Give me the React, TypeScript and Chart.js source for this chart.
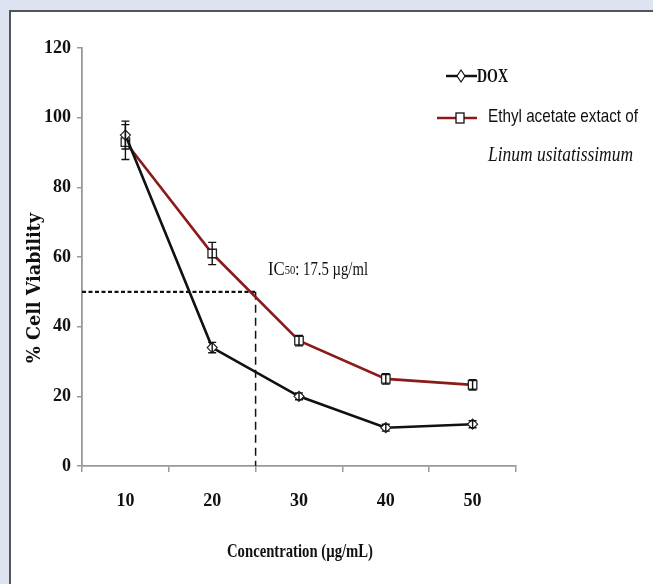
import React, { useEffect, useRef } from "react";
import { Chart, registerables } from "chart.js";

Chart.register(...registerables);

const concentrations = ["10", "20", "30", "40", "50"];
const doxValues = [95, 34, 20, 11, 12];
const doxErrors = [4, 1.5, 1, 1, 1];
const ethylValues = [93, 61, 36, 25, 23.3];
const ethylErrors = [5, 3.2, 1.5, 1.5, 1.5];
const yTicks = [0, 20, 40, 60, 80, 100, 120];
const ic50Level = 50; // % viability
const ic50LineConc = 25; // concentration where dashed line drops
const ic50Text = { pre: "IC", sub: "50", post: ": 17.5 µg/ml" };
const doxLabel = "DOX";
const ethylLabel1 = "Ethyl acetate extact of";
const ethylLabel2 = "Linum usitatissimum";
const xTitle = "Concentration (µg/mL)";
const yTitle = "% Cell Viability";

const RED = "#8b1a1a";
const SERIF = "'Liberation Serif', 'Times New Roman', serif";

// draw text horizontally condensed by factor sx
function drawCondensed(ctx: any, text: string, x: number, y: number, sx: number, align: string = "left") {
  ctx.save();
  ctx.translate(x, y);
  ctx.scale(sx, 1);
  ctx.textAlign = align;
  ctx.fillText(text, 0, 0);
  ctx.restore();
}

const errorBarPlugin = {
  id: "errorBars",
  afterDatasetsDraw(chart: any) {
    const ctx = chart.ctx;
    const yScale = chart.scales.y;
    ctx.save();
    ctx.strokeStyle = "#111";
    ctx.lineWidth = 1.4;
    chart.data.datasets.forEach((ds: any, di: number) => {
      const meta = chart.getDatasetMeta(di);
      const errs: number[] = ds.errors || [];
      meta.data.forEach((pt: any, i: number) => {
        const v = ds.data[i];
        const e = errs[i] || 0;
        if (!e) return;
        const yt = yScale.getPixelForValue(v + e);
        const yb = yScale.getPixelForValue(v - e);
        const x = pt.x;
        ctx.beginPath();
        ctx.moveTo(x, yt);
        ctx.lineTo(x, yb);
        ctx.moveTo(x - 4, yt);
        ctx.lineTo(x + 4, yt);
        ctx.moveTo(x - 4, yb);
        ctx.lineTo(x + 4, yb);
        ctx.stroke();
      });
    });
    ctx.restore();
  },
};

const annotationPlugin = {
  id: "annotations",
  beforeDatasetsDraw(chart: any) {
    const ctx = chart.ctx;
    const xs = chart.scales.x;
    const ys = chart.scales.y;
    const area = chart.chartArea;
    const idx = (ic50LineConc - Number(concentrations[0])) /
      (Number(concentrations[1]) - Number(concentrations[0]));
    const xv = xs.getPixelForValue(idx);
    const yv = ys.getPixelForValue(ic50Level);
    ctx.save();
    ctx.strokeStyle = "#111";
    ctx.lineWidth = 2.2;
    ctx.setLineDash([4, 2.5]);
    ctx.beginPath();
    ctx.moveTo(area.left, yv);
    ctx.lineTo(xv, yv);
    ctx.stroke();
    ctx.lineWidth = 1.5;
    ctx.setLineDash([8, 5]);
    ctx.beginPath();
    ctx.moveTo(xv, yv);
    ctx.lineTo(xv, area.bottom);
    ctx.stroke();
    ctx.restore();
  },
  afterDraw(chart: any) {
    const ctx = chart.ctx;
    const area = chart.chartArea;
    ctx.save();
    ctx.fillStyle = "#111";
    // IC50 text (condensed)
    ctx.textBaseline = "alphabetic";
    const sxIc = 0.88;
    let x = 268;
    const by = 275;
    ctx.font = `19px ${SERIF}`;
    drawCondensed(ctx, ic50Text.pre, x, by, sxIc);
    x += ctx.measureText(ic50Text.pre).width * sxIc;
    ctx.font = `12px ${SERIF}`;
    drawCondensed(ctx, ic50Text.sub, x, by - 1, sxIc);
    x += ctx.measureText(ic50Text.sub).width * sxIc;
    ctx.font = `19px ${SERIF}`;
    const postW = ctx.measureText(ic50Text.post).width;
    drawCondensed(ctx, ic50Text.post, x, by, (368 - x) / postW);

    // axis titles
    ctx.font = `bold 19px ${SERIF}`;
    ctx.textBaseline = "middle";
    const xtW = ctx.measureText(xTitle).width;
    drawCondensed(ctx, xTitle, (area.left + area.right) / 2 + 1, 552, 146 / xtW, "center");
    ctx.save();
    ctx.translate(35, 288);
    ctx.rotate(-Math.PI / 2);
    ctx.font = `bold 18px 'DejaVu Serif', serif`;
    const ytW = ctx.measureText(yTitle).width;
    drawCondensed(ctx, yTitle, 0, 0, 150 / ytW, "center");
    ctx.restore();

    // legend
    ctx.lineWidth = 2.5;
    ctx.strokeStyle = "#111";
    ctx.beginPath();
    ctx.moveTo(446, 76);
    ctx.lineTo(477, 76);
    ctx.stroke();
    ctx.lineWidth = 1.2;
    ctx.fillStyle = "#fff";
    ctx.beginPath();
    ctx.moveTo(461, 70);
    ctx.lineTo(465, 76);
    ctx.lineTo(461, 82);
    ctx.lineTo(457, 76);
    ctx.closePath();
    ctx.fill();
    ctx.stroke();
    ctx.fillStyle = "#111";
    ctx.font = `bold 19px ${SERIF}`;
    const dW = ctx.measureText(doxLabel).width;
    drawCondensed(ctx, doxLabel, 477, 77, 31 / dW);

    ctx.lineWidth = 2.5;
    ctx.strokeStyle = RED;
    ctx.beginPath();
    ctx.moveTo(437, 118);
    ctx.lineTo(477, 118);
    ctx.stroke();
    ctx.fillStyle = "#fff";
    ctx.strokeStyle = "#111";
    ctx.lineWidth = 1.3;
    ctx.fillRect(456, 113, 8, 10);
    ctx.strokeRect(456, 113, 8, 10);
    ctx.fillStyle = "#111";
    ctx.font = `19px 'Liberation Sans', 'Noto Sans', sans-serif`;
    const e1W = ctx.measureText(ethylLabel1).width;
    drawCondensed(ctx, ethylLabel1, 488, 117, 150 / e1W);
    ctx.font = `italic 20px ${SERIF}`;
    const e2W = ctx.measureText(ethylLabel2).width;
    drawCondensed(ctx, ethylLabel2, 488, 156, 145 / e2W);
    ctx.restore();
  },
};

export default function App() {
  const ref = useRef<HTMLCanvasElement | null>(null);
  useEffect(() => {
    if (!ref.current) return;
    const chart = new Chart(ref.current, {
      type: "line",
      data: {
        labels: concentrations,
        datasets: [
          {
            label: doxLabel,
            data: doxValues,
            errors: doxErrors,
            borderColor: "#111",
            borderWidth: 2.6,
            pointStyle: "rectRot",
            pointRadius: 5,
            pointBackgroundColor: "#fff",
            pointBorderColor: "#222",
            pointBorderWidth: 1.2,
            tension: 0,
          } as any,
          {
            label: ethylLabel1 + " " + ethylLabel2,
            data: ethylValues,
            errors: ethylErrors,
            borderColor: RED,
            borderWidth: 2.6,
            pointStyle: "rect",
            pointRadius: 6,
            pointBackgroundColor: "#fff",
            pointBorderColor: "#222",
            pointBorderWidth: 1.3,
            tension: 0,
          } as any,
        ],
      },
      options: {
        responsive: false,
        animation: false,
        layout: { padding: { top: 48, right: 137, left: 0, bottom: 0 } },
        plugins: { legend: { display: false }, tooltip: { enabled: false } },
        scales: {
          x: {
            type: "category",
            offset: true,
            grid: {
              offset: true,
              drawOnChartArea: false,
              drawTicks: true,
              tickLength: 6,
              color: "#999",
              lineWidth: 1.5,
            },
            border: { display: true, color: "#999", width: 1.8 },
            ticks: {
              padding: 19,
              color: "#111",
              font: { family: SERIF, size: 18, weight: "bold" },
            },
            afterFit: (s: any) => {
              s.height = 584 - 466;
            },
          },
          y: {
            min: 0,
            max: 120,
            afterBuildTicks: (s: any) => {
              s.ticks = yTicks.map((v) => ({ value: v }));
            },
            grid: {
              drawOnChartArea: false,
              drawTicks: true,
              tickLength: 5,
              color: "#999",
              lineWidth: 1.5,
            },
            border: { display: true, color: "#999", width: 1.8 },
            ticks: {
              padding: 6,
              color: "#111",
              font: { family: SERIF, size: 18, weight: "bold" },
            },
            afterFit: (s: any) => {
              s.width = 82;
            },
          },
        },
      } as any,
      plugins: [annotationPlugin, errorBarPlugin],
    });
    return () => chart.destroy();
  }, []);

  return (
    <div
      style={{
        position: "fixed",
        left: 0,
        top: 0,
        width: 653,
        height: 584,
        overflow: "hidden",
        background: "#dde3f1",
      }}
    >
      <div
        style={{
          position: "absolute",
          left: 9,
          top: 10,
          width: 670,
          height: 600,
          background: "#fff",
          border: "2px solid #555",
          boxSizing: "border-box",
        }}
      />
      <canvas
        ref={ref}
        width={653}
        height={584}
        style={{ position: "absolute", left: 0, top: 0, display: "block" }}
      />
    </div>
  );
}
